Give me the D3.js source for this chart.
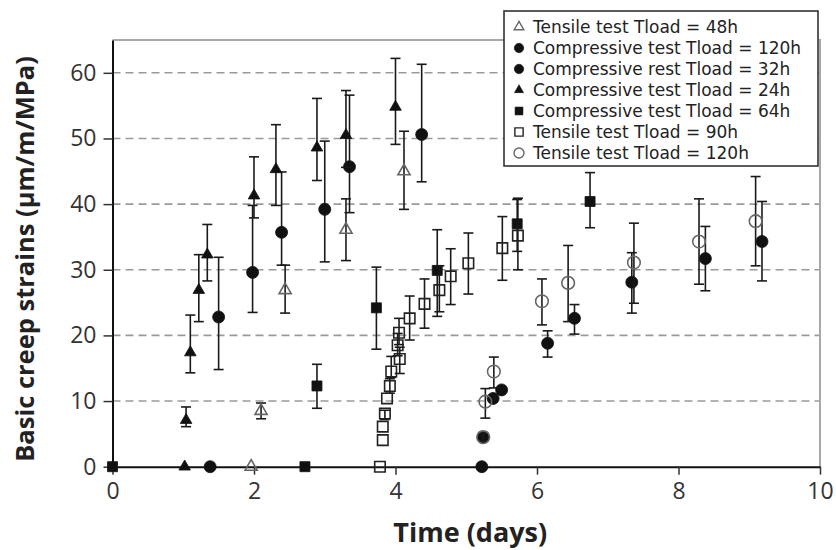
<!DOCTYPE html>
<html>
<head>
<meta charset="utf-8">
<script src="https://cdn.jsdelivr.net/npm/d3@7"></script>
<style>
  body { margin: 0; background: #fff; }
  svg { display: block; font-family: "Open Sans", "DejaVu Sans", sans-serif; }
</style>
</head>
<body>
<svg id="chart" width="836" height="550"></svg>
<script>
// Each row: [time (days), basic creep strain, error-bar low, error-bar high]
const tensile48 = [
  [1.96, 0], [2.10, 8.5, 7.3, 9.7], [2.44, 26.9, 23.4, 30.7],
  [3.30, 36.1, 31.4, 40.8], [4.12, 45.0, 39.2, 51.1]
];
const compressive120 = [
  [5.22, 0], [5.24, 4.5], [5.38, 10.4], [5.50, 11.7],
  [6.15, 18.8, 16.7, 20.7], [6.53, 22.6, 20.2, 24.7], [7.34, 28.1, 23.4, 32.6],
  [8.38, 31.7, 26.8, 36.6], [9.18, 34.3, 28.3, 40.4]
];
const compressive32 = [
  [1.38, 0], [1.50, 22.8, 14.8, 31.9], [1.98, 29.6, 23.5, 39.8],
  [2.39, 35.7, 30.7, 44.9], [3.00, 39.2, 31.2, 49.6], [3.35, 45.7, 38.7, 56.6],
  [4.37, 50.6, 43.4, 61.3]
];
const compressive24 = [
  [1.02, 0], [1.04, 7.1, 6.1, 9.1], [1.10, 17.4, 14.3, 23.1], [1.22, 26.9, 22.1, 32.3],
  [1.34, 32.3, 28.3, 36.9], [2.00, 41.3, 37.9, 47.2], [2.31, 45.3, 39.8, 52.1],
  [2.89, 48.6, 43.6, 56.1], [3.30, 50.5, 45.6, 57.3], [4.00, 54.8, 49.1, 62.2]
];
const compressive64 = [
  [0, 0], [2.72, 0], [2.89, 12.3, 8.9, 15.6], [3.73, 24.2, 17.9, 30.4],
  [4.59, 29.9, 22.9, 36.1], [5.72, 37.0, 32.8, 40.7], [6.75, 40.4, 36.4, 44.8]
];
const tensile90 = [
  [3.78, 0], [3.82, 4.05], [3.82, 6.1], [3.85, 8.1, 7.2, 8.6], [3.88, 10.4],
  [3.92, 12.3, 11.2, 13.4], [3.94, 14.5, 13.6, 16.8], [4.06, 16.4, 14.2, 18.2],
  [4.03, 18.5, 16.9, 20.3], [4.05, 20.4, 18.6, 22.6], [4.20, 22.6, 19.3, 26.0],
  [4.41, 24.8, 21.1, 28.6], [4.62, 26.9, 23.6, 30.6], [4.78, 29.0, 24.7, 33.2],
  [5.03, 31.0, 26.3, 35.6], [5.51, 33.3, 28.4, 38.1], [5.73, 35.2, 30.0, 40.9]
];
const tensile120 = [
  [5.24, 4.5, 3.9, 5.2], [5.27, 9.9, 7.4, 11.9], [5.39, 14.5, 12.0, 16.7],
  [6.07, 25.2, 21.6, 28.6], [6.44, 28.0, 22.1, 33.7], [7.37, 31.1, 24.9, 37.1],
  [8.29, 34.3, 27.8, 40.8], [9.09, 37.4, 30.6, 44.2]
];

const xTicks = [0, 2, 4, 6, 8, 10];
const yTicks = [0, 10, 20, 30, 40, 50, 60];
const gridValues = [10, 20, 30, 40, 50, 60];

const xTitle = "Time (days)";
const yTitle = "Basic creep strains (µm/m/MPa)";

// Series in legend order, with the marker used for each
const series = [
  { label: "Tensile test Tload = 48h",       data: tensile48,      shape: "triangle", filled: false },
  { label: "Compressive test Tload = 120h",  data: compressive120, shape: "circle",   filled: true },
  { label: "Compressive rest Tload = 32h",   data: compressive32,  shape: "circle",   filled: true },
  { label: "Compressive test Tload = 24h",   data: compressive24,  shape: "triangle", filled: true },
  { label: "Compressive test Tload = 64h",   data: compressive64,  shape: "square",   filled: true },
  { label: "Tensile test Tload = 90h",       data: tensile90,      shape: "square",   filled: false },
  { label: "Tensile test Tload = 120h",      data: tensile120,     shape: "circle",   filled: false }
];

const svg = d3.select("#chart");
const plot = { left: 112.5, right: 820, top: 40, bottom: 466.7 };

const x = d3.scaleLinear().domain([0, 10]).range([plot.left, plot.right]);
const y = d3.scaleLinear().domain([0, 65]).range([plot.bottom, plot.top]);

// Marker geometry (areas for d3.symbol)
const markerSize = {
  triangle: { filled: 58, open: 64 },
  circle:   { filled: Math.PI * 36, open: Math.PI * 40 },
  square:   { filled: 100, open: 110 }
};
const symbolType = { triangle: d3.symbolTriangle, circle: d3.symbolCircle, square: d3.symbolSquare };

function markerPath(shape, filled, scale = 1) {
  const size = markerSize[shape][filled ? "filled" : "open"] * scale;
  return d3.symbol().type(symbolType[shape]).size(size)();
}
function markerStroke(s) {
  if (s.filled) return "#111";
  return s.shape === "square" ? "#222" : "#666";
}

// Dashed horizontal gridlines
svg.append("g")
  .selectAll("line")
  .data(gridValues)
  .join("line")
  .attr("x1", plot.left).attr("x2", plot.right)
  .attr("y1", d => y(d)).attr("y2", d => y(d))
  .attr("stroke", "#9a9a9a")
  .attr("stroke-width", 1.6)
  .attr("stroke-dasharray", "8,5");

// Light top and right frame
svg.append("path")
  .attr("d", `M${plot.left},${plot.top}H${plot.right}V${plot.bottom}`)
  .attr("fill", "none")
  .attr("stroke", "#a8a8a8")
  .attr("stroke-width", 2);

// Axes
const yAxis = svg.append("g")
  .attr("transform", `translate(${plot.left},0)`)
  .call(d3.axisLeft(y).tickValues(yTicks).tickSize(9).tickSizeOuter(0).tickPadding(7));
const xAxis = svg.append("g")
  .attr("transform", `translate(0,${plot.bottom})`)
  .call(d3.axisBottom(x).tickValues(xTicks).tickSize(8).tickSizeOuter(0).tickPadding(8));

[xAxis, yAxis].forEach(g => {
  g.select(".domain").attr("stroke", "#111").attr("stroke-width", 2);
  g.selectAll(".tick line").attr("stroke", "#333").attr("stroke-width", 1.5);
  g.selectAll(".tick text")
    .attr("fill", "#333")
    .style("font-family", "'Open Sans', sans-serif")
    .style("font-size", "23px");
});

// Axis titles
svg.append("text")
  .attr("x", (plot.left + plot.right) / 2 + 4)
  .attr("y", 542)
  .attr("text-anchor", "middle")
  .attr("fill", "#222")
  .style("font-weight", "bold")
  .style("font-size", "27px")
  .text(xTitle);

svg.append("text")
  .attr("transform", `translate(34,259) rotate(-90)`)
  .attr("text-anchor", "middle")
  .attr("fill", "#222")
  .style("font-weight", "bold")
  .style("font-size", "25.5px")
  .text(yTitle);

// Error bars and markers
const marks = svg.append("g");
series.forEach(s => {
  const g = marks.append("g");
  const withErr = s.data.filter(d => d[2] != null);
  const bars = g.selectAll("g.err").data(withErr).join("g").attr("class", "err")
    .attr("stroke", "#1a1a1a").attr("stroke-width", 1.6);
  bars.append("line")
    .attr("x1", d => x(d[0])).attr("x2", d => x(d[0]))
    .attr("y1", d => y(d[2])).attr("y2", d => y(d[3]));
  bars.append("line")
    .attr("x1", d => x(d[0]) - 5).attr("x2", d => x(d[0]) + 5)
    .attr("y1", d => y(d[2])).attr("y2", d => y(d[2]));
  bars.append("line")
    .attr("x1", d => x(d[0]) - 5).attr("x2", d => x(d[0]) + 5)
    .attr("y1", d => y(d[3])).attr("y2", d => y(d[3]));

  g.selectAll("path.mk").data(s.data).join("path").attr("class", "mk")
    .attr("d", markerPath(s.shape, s.filled))
    .attr("transform", d => `translate(${x(d[0])},${y(d[1])})`)
    .attr("fill", s.filled ? "#111" : "none")
    .attr("stroke", markerStroke(s))
    .attr("stroke-width", s.filled ? 0.8 : 1.6);
});

// Legend
const legend = svg.append("g");
const lg = { x: 504, y: 11, w: 314, h: 155, row: 21, first: 27 };
legend.append("rect")
  .attr("x", lg.x).attr("y", lg.y).attr("width", lg.w).attr("height", lg.h)
  .attr("fill", "#fff").attr("stroke", "#333").attr("stroke-width", 1.6);

const rows = legend.selectAll("g.row").data(series).join("g").attr("class", "row")
  .attr("transform", (d, i) => `translate(${lg.x + 15},${lg.first + i * lg.row})`);
rows.append("path")
  .attr("d", d => markerPath(d.shape, d.filled, 0.62))
  .attr("fill", d => d.filled ? "#111" : "none")
  .attr("stroke", d => markerStroke(d))
  .attr("stroke-width", d => d.filled ? 0.6 : 1.4);
rows.append("text")
  .attr("x", 14)
  .attr("dy", "0.36em")
  .attr("fill", "#222")
  .style("font-family", "'DejaVu Sans', sans-serif")
  .style("font-size", "17px")
  .text(d => d.label);
</script>
</body>
</html>
